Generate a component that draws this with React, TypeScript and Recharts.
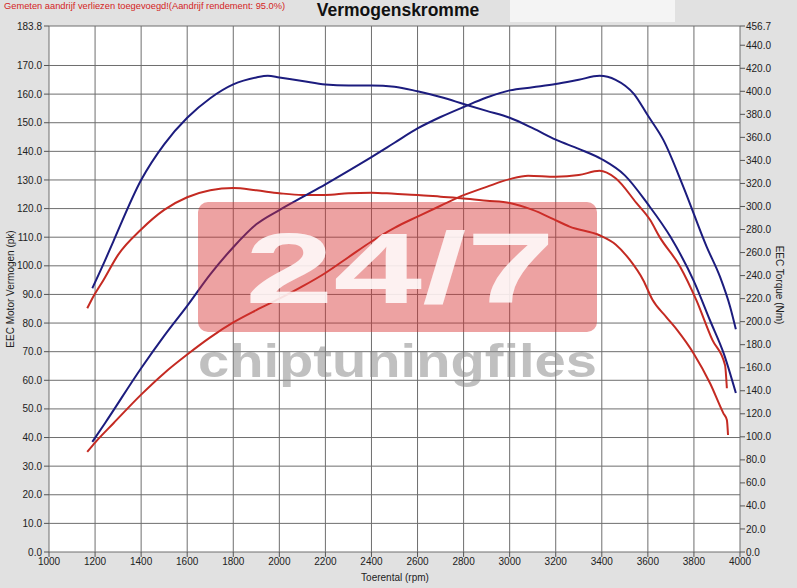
import { LineChart, Line, XAxis, YAxis, CartesianGrid } from 'recharts';

// tuned (blue) torque, right axis
const tunedTorqueRpm = [1188, 1243, 1280, 1400, 1500, 1600, 1700, 1800, 1900, 1950, 2000, 2100, 2200, 2300, 2400, 2500, 2600, 2700, 2800, 2900, 3000, 3100, 3200, 3300, 3400, 3500, 3600, 3700, 3800, 3870, 3930, 3982];
const tunedTorqueNm = [229, 253, 270, 323, 354, 377, 394, 406, 412, 413.5, 412, 409, 406, 405, 405, 404, 400, 395, 389, 383, 377, 368, 358, 350, 341, 327, 302, 273, 235, 201, 172, 138];

// tuned (blue) power, left axis
const tunedPowerRpm = [1188, 1243, 1400, 1500, 1600, 1700, 1800, 1900, 2000, 2100, 2200, 2300, 2400, 2500, 2600, 2700, 2800, 2900, 3000, 3100, 3200, 3300, 3390, 3460, 3540, 3600, 3667, 3754, 3855, 3913, 3957, 3982];
const tunedPowerPk = [38.5, 45, 64.2, 75.5, 86, 97, 106.5, 114.5, 119.5, 124, 128.5, 133.2, 138, 143, 148, 152, 155.5, 158.8, 161.3, 162.4, 163.5, 165, 166.4, 165, 160, 152.5, 144, 127.6, 106.7, 96.2, 85.7, 77.8];

// stock (red) torque, right axis
const stockTorqueRpm = [1166, 1192, 1236, 1300, 1400, 1500, 1600, 1700, 1800, 1900, 2000, 2100, 2200, 2300, 2400, 2500, 2600, 2700, 2800, 2900, 3000, 3100, 3190, 3260, 3390, 3460, 3520, 3580, 3620, 3680, 3730, 3800, 3870, 3928, 3943, 3948];
const stockTorqueNm = [211.6, 221.7, 236, 258, 280, 297, 308, 314, 316, 314, 311.5, 310, 310, 311.5, 312, 311, 310, 308.5, 307, 305, 303, 297, 289, 282.5, 275, 267, 254, 236, 219, 204, 192, 172, 146.5, 120.4, 114.6, 101.6];

// stock (red) power, left axis
const stockPowerRpm = [1166, 1203, 1280, 1400, 1500, 1600, 1700, 1800, 1900, 2000, 2100, 2200, 2300, 2400, 2500, 2600, 2700, 2800, 2900, 3000, 3080, 3200, 3300, 3390, 3460, 3550, 3610, 3650, 3740, 3810, 3880, 3935, 3943];
const stockPowerPk = [35, 38.5, 45, 55, 62.5, 69, 75, 80.2, 84.5, 88.5, 92.8, 97.5, 103, 108.5, 113.3, 117.2, 121, 124.7, 127.6, 130.3, 131.5, 131.1, 131.7, 133.2, 130.6, 122, 116, 110.2, 99.7, 88.1, 74.1, 65.3, 57.2];

const rpmTicks = [1000, 1200, 1400, 1600, 1800, 2000, 2200, 2400, 2600, 2800, 3000, 3200, 3400, 3600, 3800, 4000];
const pkTicks = [0, 10, 20, 30, 40, 50, 60, 70, 80, 90, 100, 110, 120, 130, 140, 150, 160, 170, 183.8];
const nmTicks = [0, 20, 40, 60, 80, 100, 120, 140, 160, 180, 200, 220, 240, 260, 280, 300, 320, 340, 360, 380, 400, 420, 440, 456.7];

const toRows = (xs: number[], ys: number[]) => xs.map((rpm, i) => ({ rpm, v: ys[i] }));

const FONT = '"Liberation Sans", Arial, sans-serif';
const BLUE = '#1c1c7e';
const RED = '#c42a22';

export default function App() {
  const tickStyle = { fontSize: 10, fill: '#222', fontFamily: FONT };
  return (
    <div style={{ position: 'relative', width: 797, height: 588, background: '#e1e1e1' }}>
      <style>{`body{margin:0}`}</style>
      <div style={{ position: 'absolute', left: 510, top: 0, width: 165, height: 22, background: '#f4f4f4' }} />
      <LineChart
        width={797}
        height={588}
        margin={{ top: 26, right: 0, bottom: 0, left: 0 }}
        style={{ position: 'absolute', left: 0, top: 0 }}
      >
        <CartesianGrid yAxisId="pk" fill="#ffffff" stroke="#6e6e6e" strokeWidth={1} />
        <XAxis
          dataKey="rpm"
          type="number"
          domain={[1000, 4000]}
          ticks={rpmTicks}
          height={36}
          tickSize={5}
          tickMargin={1}
          axisLine={false}
          tickLine={{ stroke: '#555' }}
          tick={tickStyle}
          allowDuplicatedCategory={false}
        />
        <YAxis
          yAxisId="pk"
          orientation="left"
          type="number"
          domain={[0, 183.8]}
          ticks={pkTicks}
          width={49}
          tickSize={5}
          tickMargin={2}
          axisLine={false}
          tickLine={{ stroke: '#555' }}
          tick={tickStyle}
          tickFormatter={(v: number) => v.toFixed(1)}
          interval={0}
        />
        <YAxis
          yAxisId="nm"
          orientation="right"
          type="number"
          domain={[0, 456.7]}
          ticks={nmTicks}
          width={57}
          tickSize={5}
          tickMargin={1}
          axisLine={false}
          tickLine={{ stroke: '#555' }}
          tick={tickStyle}
          tickFormatter={(v: number) => v.toFixed(1)}
          interval={0}
        />
        <Line yAxisId="nm" data={toRows(stockTorqueRpm, stockTorqueNm)} dataKey="v" type="monotone" stroke={RED} strokeWidth={2} dot={false} isAnimationActive={false} />
        <Line yAxisId="pk" data={toRows(stockPowerRpm, stockPowerPk)} dataKey="v" type="monotone" stroke={RED} strokeWidth={2} dot={false} isAnimationActive={false} />
        <Line yAxisId="nm" data={toRows(tunedTorqueRpm, tunedTorqueNm)} dataKey="v" type="monotone" stroke={BLUE} strokeWidth={2} dot={false} isAnimationActive={false} />
        <Line yAxisId="pk" data={toRows(tunedPowerRpm, tunedPowerPk)} dataKey="v" type="monotone" stroke={BLUE} strokeWidth={2} dot={false} isAnimationActive={false} />
      </LineChart>
      <svg width={797} height={588} style={{ position: 'absolute', left: 0, top: 0, pointerEvents: 'none' }}>
        <text x={4} y={9} fontSize={9.3} fill="#d42424" fontFamily={FONT}>
          Gemeten aandrijf verliezen toegevoegd!(Aandrijf rendement: 95.0%)
        </text>
        <text x={398} y={16} fontSize={17.5} fontWeight="bold" fill="#111" fontFamily={FONT} textAnchor="middle">
          Vermogenskromme
        </text>
        <text x={395} y={581} fontSize={10} fill="#222" fontFamily={FONT} textAnchor="middle">
          Toerental (rpm)
        </text>
        <text transform="translate(14,289) rotate(-90)" fontSize={10} fill="#222" fontFamily={FONT} textAnchor="middle">
          EEC Motor Vermogen (pk)
        </text>
        <text transform="translate(776,285) rotate(90)" fontSize={10} fill="#222" fontFamily={FONT} textAnchor="middle">
          EEC Torque (Nm)
        </text>
        <rect x={198} y={202} width={399} height={130} rx={10} fill="rgba(214,48,48,0.45)" />
        <text x={245} y={303} fontSize={100} fontWeight="bold" fill="rgba(255,255,255,0.85)" fontFamily={FONT} textLength={310} lengthAdjust="spacingAndGlyphs">
          24/7
        </text>
        <text x={198} y={377} fontSize={46} fontWeight="bold" fill="rgba(140,140,140,0.55)" fontFamily={FONT} textLength={399} lengthAdjust="spacingAndGlyphs">
          chiptuningfiles
        </text>
      </svg>
    </div>
  );
}
